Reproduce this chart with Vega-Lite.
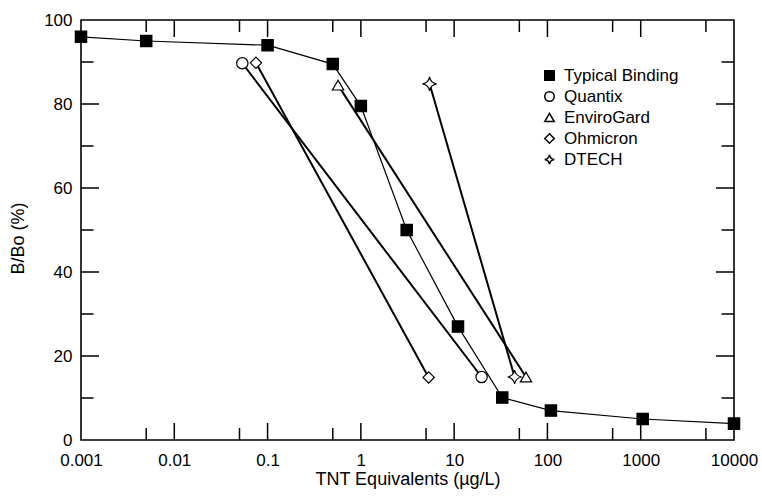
{
  "$schema": "https://vega.github.io/schema/vega-lite/v6.json",
  "width": 653,
  "height": 420,
  "autosize": {"type": "none"},
  "padding": {"left": 81, "top": 20, "right": 28, "bottom": 57},
  "background": "white",
  "config": {
    "font": "Liberation Sans",
    "view": {"stroke": "black", "strokeWidth": 1.6},
    "axis": {
      "domain": false,
      "grid": false,
      "ticks": false,
      "labelColor": "black",
      "labelFont": "Liberation Sans",
      "labelFontSize": 17,
      "titleColor": "black",
      "titleFont": "Liberation Sans",
      "titleFontSize": 18,
      "titleFontWeight": "normal",
      "labelFlush": false,
      "labelOverlap": false
    },
    "legend": {
      "labelFont": "Liberation Sans",
      "labelFontSize": 17,
      "labelColor": "black"
    }
  },
  "datasets": {
    "curves": [
      {"series": "Typical Binding", "x": 0.001, "y": 96},
      {"series": "Typical Binding", "x": 0.005, "y": 95},
      {"series": "Typical Binding", "x": 0.1, "y": 94},
      {"series": "Typical Binding", "x": 0.5, "y": 89.5},
      {"series": "Typical Binding", "x": 1, "y": 79.5},
      {"series": "Typical Binding", "x": 3.1, "y": 50},
      {"series": "Typical Binding", "x": 11, "y": 27},
      {"series": "Typical Binding", "x": 32.8, "y": 10.1},
      {"series": "Typical Binding", "x": 109, "y": 7},
      {"series": "Typical Binding", "x": 1050, "y": 5},
      {"series": "Typical Binding", "x": 10000, "y": 3.9},
      {"series": "Quantix", "x": 0.0536, "y": 89.7},
      {"series": "Quantix", "x": 19.7, "y": 15},
      {"series": "EnviroGard", "x": 0.57, "y": 84.5},
      {"series": "EnviroGard", "x": 58.9, "y": 15},
      {"series": "Ohmicron", "x": 0.075, "y": 89.8},
      {"series": "Ohmicron", "x": 5.33, "y": 14.9},
      {"series": "DTECH", "x": 5.45, "y": 84.8},
      {"series": "DTECH", "x": 44.5, "y": 15}
    ],
    "xticks": [
      {"x": 0.01, "y": 0, "kind": "major"}, {"x": 0.1, "y": 0, "kind": "major"}, {"x": 1, "y": 0, "kind": "major"},
      {"x": 10, "y": 0, "kind": "major"}, {"x": 100, "y": 0, "kind": "major"}, {"x": 1000, "y": 0, "kind": "major"},
      {"x": 0.01, "y": 100, "kind": "major"}, {"x": 0.1, "y": 100, "kind": "major"}, {"x": 1, "y": 100, "kind": "major"},
      {"x": 10, "y": 100, "kind": "major"}, {"x": 100, "y": 100, "kind": "major"}, {"x": 1000, "y": 100, "kind": "major"},
      {"x": 0.005, "y": 0, "kind": "minor"}, {"x": 0.05, "y": 0, "kind": "minor"}, {"x": 0.5, "y": 0, "kind": "minor"},
      {"x": 5, "y": 0, "kind": "minor"}, {"x": 50, "y": 0, "kind": "minor"}, {"x": 500, "y": 0, "kind": "minor"}, {"x": 5000, "y": 0, "kind": "minor"},
      {"x": 0.005, "y": 100, "kind": "minor"}, {"x": 0.05, "y": 100, "kind": "minor"}, {"x": 0.5, "y": 100, "kind": "minor"},
      {"x": 5, "y": 100, "kind": "minor"}, {"x": 50, "y": 100, "kind": "minor"}, {"x": 500, "y": 100, "kind": "minor"}, {"x": 5000, "y": 100, "kind": "minor"}
    ],
    "yticks": [
      {"x": 0.001, "y": 20, "kind": "major"}, {"x": 0.001, "y": 40, "kind": "major"}, {"x": 0.001, "y": 60, "kind": "major"}, {"x": 0.001, "y": 80, "kind": "major"},
      {"x": 10000, "y": 20, "kind": "major"}, {"x": 10000, "y": 40, "kind": "major"}, {"x": 10000, "y": 60, "kind": "major"}, {"x": 10000, "y": 80, "kind": "major"},
      {"x": 0.001, "y": 10, "kind": "minor"}, {"x": 0.001, "y": 30, "kind": "minor"}, {"x": 0.001, "y": 50, "kind": "minor"}, {"x": 0.001, "y": 70, "kind": "minor"}, {"x": 0.001, "y": 90, "kind": "minor"},
      {"x": 10000, "y": 10, "kind": "minor"}, {"x": 10000, "y": 30, "kind": "minor"}, {"x": 10000, "y": 50, "kind": "minor"}, {"x": 10000, "y": 70, "kind": "minor"}, {"x": 10000, "y": 90, "kind": "minor"}
    ]
  },
  "layer": [
    {
      "data": {"name": "xticks"},
      "mark": {"type": "tick", "orient": "vertical", "color": "black", "opacity": 1, "thickness": 1.5, "clip": true},
      "encoding": {
        "x": {"field": "x", "type": "quantitative", "scale": {"type": "log", "domain": [0.001, 10000], "nice": false},
          "axis": {"values": [0.001, 0.01, 0.1, 1, 10, 100, 1000, 10000], "labelPadding": 12.5, "labelExpr": "format(datum.value, '~g')", "title": "TNT Equivalents (µg/L)", "titlePadding": 2}},
        "y": {"field": "y", "type": "quantitative", "scale": {"domain": [0, 100], "nice": false, "zero": false},
          "axis": {"values": [0, 20, 40, 60, 80, 100], "labelPadding": 9, "title": "B/Bo (%)", "titleX": -54, "titleY": 218}},
        "size": {"condition": {"test": "datum.kind === 'major'", "value": 34}, "value": 24}
      }
    },
    {
      "data": {"name": "yticks"},
      "mark": {"type": "tick", "orient": "horizontal", "color": "black", "opacity": 1, "thickness": 1.5, "clip": true},
      "encoding": {
        "x": {"field": "x", "type": "quantitative",
          "axis": {"values": [0.001, 0.01, 0.1, 1, 10, 100, 1000, 10000], "labelPadding": 12.5, "labelExpr": "format(datum.value, '~g')", "title": "TNT Equivalents (µg/L)", "titlePadding": 2}},
        "y": {"field": "y", "type": "quantitative",
          "axis": {"values": [0, 20, 40, 60, 80, 100], "labelPadding": 9, "title": "B/Bo (%)", "titleX": -54, "titleY": 218}},
        "size": {"condition": {"test": "datum.kind === 'major'", "value": 36}, "value": 25}
      }
    },
    {
      "data": {"name": "curves"},
      "transform": [{"filter": "datum.series === 'Typical Binding'"}],
      "mark": {"type": "line", "color": "black", "strokeWidth": 1.2},
      "encoding": {
        "x": {"field": "x", "type": "quantitative",
          "axis": {"values": [0.001, 0.01, 0.1, 1, 10, 100, 1000, 10000], "labelPadding": 12.5, "labelExpr": "format(datum.value, '~g')", "title": "TNT Equivalents (µg/L)", "titlePadding": 2}},
        "y": {"field": "y", "type": "quantitative",
          "axis": {"values": [0, 20, 40, 60, 80, 100], "labelPadding": 9, "title": "B/Bo (%)", "titleX": -54, "titleY": 218}}
      }
    },
    {
      "data": {"name": "curves"},
      "transform": [{"filter": "datum.series !== 'Typical Binding'"}],
      "mark": {"type": "line", "color": "black", "strokeWidth": 2},
      "encoding": {
        "x": {"field": "x", "type": "quantitative",
          "axis": {"values": [0.001, 0.01, 0.1, 1, 10, 100, 1000, 10000], "labelPadding": 12.5, "labelExpr": "format(datum.value, '~g')", "title": "TNT Equivalents (µg/L)", "titlePadding": 2}},
        "y": {"field": "y", "type": "quantitative",
          "axis": {"values": [0, 20, 40, 60, 80, 100], "labelPadding": 9, "title": "B/Bo (%)", "titleX": -54, "titleY": 218}},
        "detail": {"field": "series"}
      }
    },
    {
      "data": {"name": "curves"},
      "mark": {"type": "point", "opacity": 1, "strokeWidth": 1.2, "stroke": "black"},
      "encoding": {
        "x": {"field": "x", "type": "quantitative",
          "axis": {"values": [0.001, 0.01, 0.1, 1, 10, 100, 1000, 10000], "labelPadding": 12.5, "labelExpr": "format(datum.value, '~g')", "title": "TNT Equivalents (µg/L)", "titlePadding": 2}},
        "y": {"field": "y", "type": "quantitative",
          "axis": {"values": [0, 20, 40, 60, 80, 100], "labelPadding": 9, "title": "B/Bo (%)", "titleX": -54, "titleY": 218}},
        "shape": {
          "field": "series", "type": "nominal",
          "scale": {
            "domain": ["Typical Binding", "Quantix", "EnviroGard", "Ohmicron", "DTECH"],
            "range": ["square", "circle", "triangle-up", "diamond", "M0,-1 Q0.15,-0.15 1,0 Q0.15,0.15 0,1 Q-0.15,0.15 -1,0 Q-0.15,-0.15 0,-1 Z"]
          },
          "legend": {
            "title": null,
            "orient": "none",
            "legendX": 460,
            "legendY": 47,
            "symbolSize": 90,
            "labelOffset": 6,
            "rowPadding": 3,
            "encode": {"symbols": {"update": {"stroke": {"value": "black"}, "strokeWidth": {"value": 1}}}}
          }
        },
        "fill": {
          "field": "series", "type": "nominal",
          "scale": {
            "domain": ["Typical Binding", "Quantix", "EnviroGard", "Ohmicron", "DTECH"],
            "range": ["black", "white", "white", "white", "white"]
          },
          "legend": {
            "title": null,
            "orient": "none",
            "legendX": 460,
            "legendY": 47,
            "symbolSize": 90,
            "labelOffset": 6,
            "rowPadding": 3,
            "encode": {"symbols": {"update": {"stroke": {"value": "black"}, "strokeWidth": {"value": 1}}}}
          }
        },
        "size": {
          "condition": {"test": "datum.series === 'DTECH'", "value": 196},
          "value": 128
        }
      }
    }
  ]
}
